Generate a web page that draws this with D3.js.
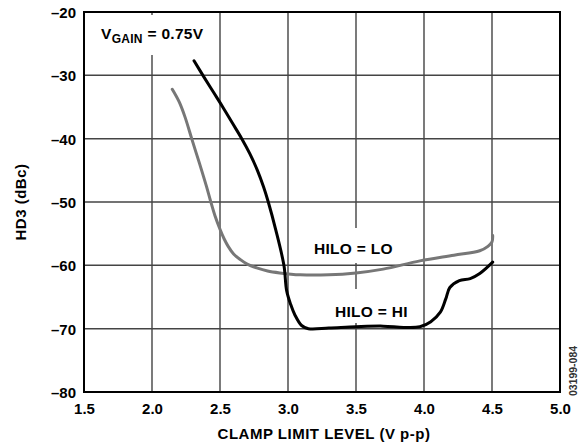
<!DOCTYPE html>
<html><head><meta charset="utf-8">
<script src="https://cdn.jsdelivr.net/npm/d3@7"></script>
<style>
body{margin:0;background:#fff;}
text{font-family:"Liberation Sans",Arial,Helvetica,sans-serif;font-weight:bold;}
</style></head>
<body><svg id="c" width="584" height="444"></svg>
<script>
const xTicks = [1.5, 2.0, 2.5, 3.0, 3.5, 4.0, 4.5, 5.0];
const yTicks = [-20, -30, -40, -50, -60, -70, -80];

// HILO = LO (gray)
const loX = [2.149, 2.2, 2.243, 2.292, 2.33, 2.365, 2.4, 2.43, 2.465, 2.5, 2.53, 2.56, 2.6, 2.65, 2.7, 2.77, 2.85, 2.94, 3.09, 3.3, 3.5, 3.7, 3.97, 4.22, 4.41, 4.47, 4.5, 4.505];
const loY = [-32.2, -34.2, -36.6, -40.0, -42.6, -45.0, -47.5, -49.8, -52.3, -54.3, -55.8, -57.0, -58.2, -59.1, -59.8, -60.4, -60.9, -61.2, -61.5, -61.5, -61.2, -60.6, -59.3, -58.4, -57.7, -57.0, -56.3, -55.3];

// HILO = HI (black)
const hiX = [2.309, 2.38, 2.45, 2.52, 2.59, 2.66, 2.72, 2.775, 2.82, 2.855, 2.91, 2.97, 2.99, 3.02, 3.05, 3.1, 3.15, 3.3, 3.5, 3.7, 3.85, 3.97, 4.05, 4.12, 4.16, 4.19, 4.26, 4.34, 4.41, 4.505];
const hiY = [-27.7, -30.2, -32.6, -35.0, -37.5, -40.0, -42.4, -45.0, -47.6, -50.0, -54.4, -60.0, -64.0, -66.2, -67.8, -69.5, -70.0, -69.9, -69.7, -69.6, -69.8, -69.7, -68.9, -67.4, -65.3, -63.5, -62.4, -62.1, -61.3, -59.5];

const svg = d3.select("#c");
const L = 84, R = 560, T = 12, B = 392;
const x = d3.scaleLinear().domain([1.5, 5.0]).range([L, R]);
const y = d3.scaleLinear().domain([-80, -20]).range([B, T]);

// grid
const g = svg.append("g");
g.selectAll("line.v").data(xTicks.slice(1, -1)).join("line")
  .attr("x1", d => x(d)).attr("x2", d => x(d)).attr("y1", T).attr("y2", B)
  .attr("stroke", "#333").attr("stroke-width", 1.3);
g.selectAll("line.h").data(yTicks.slice(1, -1)).join("line")
  .attr("y1", d => y(d)).attr("y2", d => y(d)).attr("x1", L).attr("x2", R)
  .attr("stroke", "#444").attr("stroke-width", 1.5);

// label backgrounds (white knock-outs)
const bg = svg.append("g");
const lab = svg.append("g");

// frame
svg.append("rect").attr("x", L).attr("y", T).attr("width", R - L).attr("height", B - T)
  .attr("fill", "none").attr("stroke", "#000").attr("stroke-width", 2);

// axes tick labels
const xa = d3.axisBottom(x).tickValues(xTicks).tickSize(0).tickPadding(0).tickFormat(d3.format(".1f"));
const xg = svg.append("g").attr("transform", `translate(0,${B})`).call(xa);
xg.select(".domain").remove();
xg.selectAll("text").attr("dy", null).attr("y", 22).attr("font-size", 15).attr("fill", "#000")
  .attr("font-family", '"Liberation Sans",Arial,sans-serif').attr("font-weight", "bold");

const ya = d3.axisLeft(y).tickValues(yTicks).tickSize(0).tickPadding(0).tickFormat(d => "–" + Math.abs(d));
const yg = svg.append("g").attr("transform", `translate(${L - 8},0)`).call(ya);
yg.select(".domain").remove();
yg.selectAll("text").attr("dy", "0.36em").attr("font-size", 15).attr("fill", "#000")
  .attr("font-family", '"Liberation Sans",Arial,sans-serif').attr("font-weight", "bold");

// axis titles
svg.append("text").attr("x", (L + R) / 2 + 2).attr("y", 439).attr("text-anchor", "middle")
  .attr("font-size", 15).attr("letter-spacing", 0.5).text("CLAMP LIMIT LEVEL (V p-p)");
svg.append("text").attr("transform", `translate(26,${(T + B) / 2}) rotate(-90)`)
  .attr("text-anchor", "middle").attr("font-size", 15).attr("letter-spacing", 0.5).text("HD3 (dBc)");

// curves
const line = d3.line().x(d => x(d[0])).y(d => y(d[1])).curve(d3.curveCatmullRom.alpha(0.5));
svg.append("path").datum(d3.zip(loX, loY)).attr("d", line)
  .attr("fill", "none").attr("stroke", "#777").attr("stroke-width", 3).attr("stroke-linecap", "round");
svg.append("path").datum(d3.zip(hiX, hiY)).attr("d", line)
  .attr("fill", "none").attr("stroke", "#000").attr("stroke-width", 3).attr("stroke-linecap", "round");

// annotation labels
function label(tx, ty, parts, pad) {
  const t = lab.append("text").attr("x", tx).attr("y", ty).attr("font-size", 15.5).attr("letter-spacing", 0.3);
  parts.forEach(p => {
    const s = t.append("tspan").text(p.t);
    if (p.sub) s.attr("font-size", 12).attr("dy", 4);
    if (p.back) s.attr("dy", -4);
  });
  const b = t.node().getBBox();
  bg.append("rect").attr("x", b.x - pad[3]).attr("y", b.y - pad[0])
    .attr("width", b.width + pad[1] + pad[3]).attr("height", b.height + pad[0] + pad[2]).attr("fill", "#fff");
}
label(101, 39, [{t: "V"}, {t: "GAIN", sub: true}, {t: " = 0.75V", back: true}], [10, 6, 9, 6]);
label(314, 254, [{t: "HILO = LO"}], [12, 6, 6, 6]);
label(335, 317, [{t: "HILO = HI"}], [14, 6, 3, 6]);

// figure id
svg.append("text").attr("transform", "translate(577,371) rotate(-90)").attr("text-anchor", "middle")
  .attr("font-size", 10.5).attr("font-weight", "normal").attr("fill", "#333").text("03199-084");
</script></body></html>
